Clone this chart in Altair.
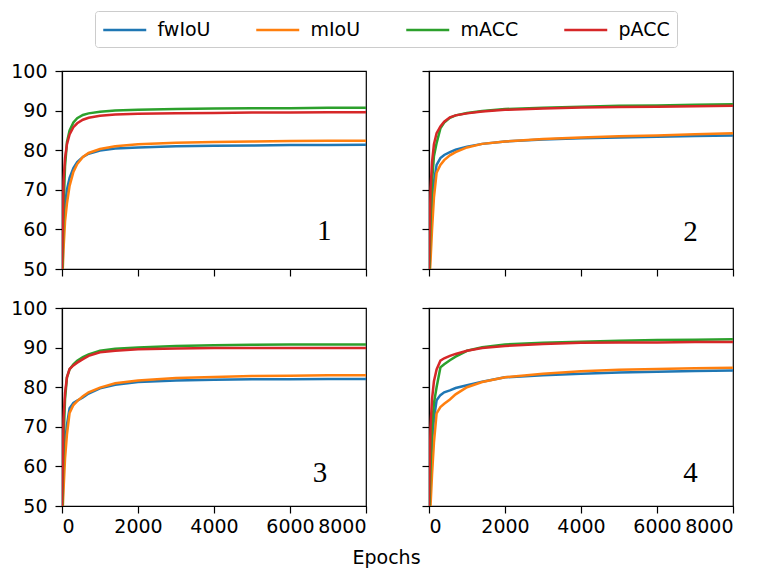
import altair as alt
import pandas as pd

# ---------------- data ----------------
epochs = [0, 40, 80, 130, 200, 300, 400, 550, 700, 1000, 1400, 2000, 3000, 4000, 5000, 6000, 7000, 8000]
metrics = ["fwIoU", "mIoU", "mACC", "pACC"]
colors = ["#1f77b4", "#ff7f0e", "#2ca02c", "#d62728"]

p1_fwiou = [45, 60, 66, 70, 73, 75.5, 77, 78.3, 79.1, 79.9, 80.4, 80.7, 81.0, 81.1, 81.2, 81.3, 81.3, 81.4]
p1_miou = [45, 55, 62, 66.5, 71, 74.5, 76.5, 78.3, 79.3, 80.3, 81.0, 81.5, 81.9, 82.1, 82.2, 82.3, 82.4, 82.4]
p1_macc = [45, 65, 76, 82, 85, 87, 88.1, 88.9, 89.3, 89.7, 90.0, 90.2, 90.4, 90.5, 90.6, 90.6, 90.7, 90.7]
p1_pacc = [50, 72, 78, 81.5, 84, 85.8, 86.8, 87.7, 88.2, 88.7, 89.0, 89.2, 89.3, 89.4, 89.5, 89.5, 89.6, 89.6]

p2_fwiou = [45, 58, 66, 72, 76.3, 78, 78.8, 79.5, 80.1, 80.9, 81.6, 82.2, 82.7, 83.0, 83.2, 83.4, 83.6, 83.7]
p2_miou = [45, 52, 60, 68, 74.3, 76.3, 77.5, 78.7, 79.5, 80.7, 81.6, 82.2, 82.8, 83.2, 83.5, 83.7, 84.0, 84.3]
p2_macc = [45, 62, 72, 78.5, 81.8, 85.5, 87, 88.2, 88.8, 89.4, 89.9, 90.4, 90.7, 91.0, 91.2, 91.3, 91.5, 91.6]
p2_pacc = [50, 70, 77, 81.5, 84.3, 86, 87.2, 88.3, 88.8, 89.3, 89.8, 90.2, 90.5, 90.8, 90.9, 91.0, 91.1, 91.2]

p3_fwiou = [45, 60, 66, 70.5, 74.7, 76, 76.6, 77.4, 78.4, 79.7, 80.6, 81.3, 81.7, 81.9, 82.0, 82.0, 82.1, 82.1]
p3_miou = [45, 54, 62, 68, 73.5, 75.5, 76.5, 77.7, 78.7, 79.9, 81.0, 81.7, 82.3, 82.6, 82.8, 82.9, 83.0, 83.0]
p3_macc = [45, 66, 77, 82.5, 84.5, 85.8, 86.7, 87.6, 88.3, 89.2, 89.7, 90.0, 90.4, 90.6, 90.7, 90.8, 90.8, 90.8]
p3_pacc = [50, 72, 78.5, 82.5, 84.6, 85.5, 86.2, 87.1, 87.9, 88.8, 89.2, 89.6, 89.8, 89.9, 89.9, 89.9, 89.9, 89.9]

p4_fwiou = [45, 58, 66, 72, 76.7, 78, 78.7, 79.2, 79.8, 80.5, 81.4, 82.5, 83.0, 83.4, 83.7, 83.9, 84.1, 84.2]
p4_miou = [45, 50, 58, 66, 73.4, 75, 75.8, 76.9, 78.2, 80.0, 81.3, 82.5, 83.4, 84.0, 84.4, 84.6, 84.8, 84.9]
p4_macc = [45, 60, 70, 76, 80, 85, 85.8, 86.8, 87.7, 89.2, 90.1, 90.8, 91.2, 91.5, 91.7, 91.9, 92.0, 92.1]
p4_pacc = [50, 70, 77, 81.5, 84.5, 86.7, 87.3, 87.9, 88.4, 89.2, 89.9, 90.4, 90.9, 91.2, 91.3, 91.3, 91.4, 91.4]

panel_series = [
    [p1_fwiou, p1_miou, p1_macc, p1_pacc],
    [p2_fwiou, p2_miou, p2_macc, p2_pacc],
    [p3_fwiou, p3_miou, p3_macc, p3_pacc],
    [p4_fwiou, p4_miou, p4_macc, p4_pacc],
]
panel_names = ["1", "2", "3", "4"]
name_epoch = [6900, 6880, 6790, 6880]
name_value = [57.3, 57.1, 56.1, 56.1]

x_ticks = [0, 2000, 4000, 6000, 8000]
y_ticks = [50, 60, 70, 80, 90, 100]

FONT = "DejaVu Sans"
FS = 19
W, H = 304, 198


def panel(i, show_x, show_y, legend, xtitle=None):
    rows = []
    for m, vals in zip(metrics, panel_series[i]):
        for k, (e, v) in enumerate(zip(epochs, vals)):
            rows.append({"epoch": e, "value": v, "metric": m, "k": k})
    df = pd.DataFrame(rows)
    x_axis_kwargs = dict(values=x_ticks, labels=show_x, format="d", title=xtitle,
                         labelOverlap=False, labelPadding=4, tickCount=5)
    if xtitle:
        x_axis_kwargs.update(titleX=324, titleY=51, titleBaseline="middle",
                             titleAlign="center", titleFont=FONT, titleFontSize=FS,
                             titleFontWeight="normal", titleColor="black")
    x_axis = alt.Axis(**x_axis_kwargs)
    y_axis = alt.Axis(values=y_ticks, labels=show_y, title=None, format="d",
                      labelOverlap=False, labelPadding=8, tickCount=6)
    xs = alt.Scale(domain=[0, 8000], nice=False)
    ys = alt.Scale(domain=[50, 100], nice=False)
    line = alt.Chart(df).mark_line(strokeWidth=2.5, clip=True).encode(
        x=alt.X("epoch:Q", scale=xs, axis=x_axis),
        y=alt.Y("value:Q", scale=ys, axis=y_axis),
        color=alt.Color("metric:N", scale=alt.Scale(domain=metrics, range=colors),
                        legend=legend),
        order="k:Q",
    )
    ldf = pd.DataFrame({"epoch": [name_epoch[i]], "value": [name_value[i]],
                        "name": [panel_names[i]]})
    text = alt.Chart(ldf).mark_text(font="Liberation Serif", fontSize=29,
                                    baseline="alphabetic", align="center",
                                    color="black").encode(
        x=alt.X("epoch:Q", scale=xs, axis=x_axis),
        y=alt.Y("value:Q", scale=ys, axis=y_axis),
        text="name:N")
    return alt.layer(line, text).properties(width=W, height=H)


leg = alt.Legend(orient="none", legendX=33, legendY=-60, direction="horizontal",
                 columns=4, title=None, symbolType="M-1,0H3", symbolSize=462,
                 symbolStrokeWidth=2.5, labelFont=FONT, labelFontSize=FS,
                 labelColor="black", labelOffset=31.5, columnPadding=40, padding=7,
                 strokeColor="#cccccc", cornerRadius=3, fillColor="white")

p1 = panel(0, False, True, leg)
p2 = panel(1, False, False, leg)
p3 = panel(2, True, True, leg, xtitle="Epochs")
p4 = panel(3, True, False, leg)

chart = alt.concat(p1, p2, p3, p4, columns=2, bounds="flush",
                   spacing={"row": 39, "column": 63}).properties(
    padding={"left": 10, "top": 10, "right": 5, "bottom": 3}
).configure_view(stroke="black", strokeWidth=1.2).configure_axis(
    grid=False, domainColor="black", domainWidth=1.2, tickColor="black",
    tickWidth=1.2, tickSize=7, labelFont=FONT, labelFontSize=FS,
    labelColor="black"
)

chart.save("out.html", embed_options={"renderer": "svg", "actions": False})
